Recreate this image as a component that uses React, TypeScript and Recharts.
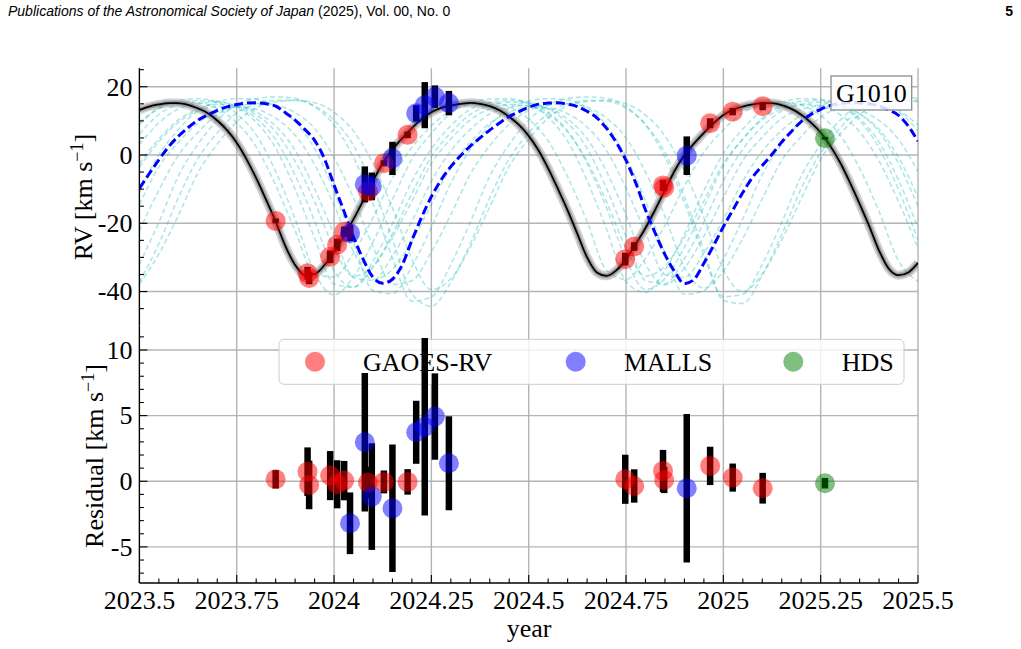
import React from "react";
import { ComposedChart, Line, Scatter, ErrorBar, XAxis, YAxis, CartesianGrid } from "recharts";

const SERIF = "'Liberation Serif', 'Times New Roman', serif";
const SANS = "'Liberation Sans', Arial, sans-serif";

// axes
const X_DOMAIN: [number, number] = [2023.5, 2025.5];
const RV_DOMAIN: [number, number] = [-50, 25.4];
const RES_DOMAIN: [number, number] = [-7.75, 11.85];

const xMajor = [2023.5, 2023.75, 2024, 2024.25, 2024.5, 2024.75, 2025, 2025.25, 2025.5];
const xTicks = [
  2023.5, 2023.55, 2023.6, 2023.65, 2023.7, 2023.75, 2023.8, 2023.85, 2023.9, 2023.95,
  2024, 2024.05, 2024.1, 2024.15, 2024.2, 2024.25, 2024.3, 2024.35, 2024.4, 2024.45,
  2024.5, 2024.55, 2024.6, 2024.65, 2024.7, 2024.75, 2024.8, 2024.85, 2024.9, 2024.95,
  2025, 2025.05, 2025.1, 2025.15, 2025.2, 2025.25, 2025.3, 2025.35, 2025.4, 2025.45, 2025.5,
];
const rvMajor = [-40, -20, 0, 20];
const rvTicks = [-45, -40, -35, -30, -25, -20, -15, -10, -5, 0, 5, 10, 15, 20, 25];
const resMajor = [-5, 0, 5, 10];
const resTicks = [-7, -6, -5, -4, -3, -2, -1, 0, 1, 2, 3, 4, 5, 6, 7, 8, 9, 10, 11];

// best-fit orbit and the comparison (blue dashed) curve, every 0.025 yr
const fitYears = [
  2023.5, 2023.525, 2023.55, 2023.575, 2023.6, 2023.625, 2023.65, 2023.675, 2023.7, 2023.725,
  2023.75, 2023.775, 2023.8, 2023.825, 2023.85, 2023.875, 2023.9, 2023.925, 2023.95, 2023.975,
  2024, 2024.025, 2024.05, 2024.075, 2024.1, 2024.125, 2024.15, 2024.175, 2024.2, 2024.225,
  2024.25, 2024.275, 2024.3, 2024.325, 2024.35, 2024.375, 2024.4, 2024.425, 2024.45, 2024.475,
  2024.5, 2024.525, 2024.55, 2024.575, 2024.6, 2024.625, 2024.65, 2024.675, 2024.7, 2024.725,
  2024.75, 2024.775, 2024.8, 2024.825, 2024.85, 2024.875, 2024.9, 2024.925, 2024.95, 2024.975,
  2025, 2025.025, 2025.05, 2025.075, 2025.1, 2025.125, 2025.15, 2025.175, 2025.2, 2025.225,
  2025.25, 2025.275, 2025.3, 2025.325, 2025.35, 2025.375, 2025.4, 2025.425, 2025.45, 2025.475,
  2025.5,
];
const bestFitRV = [
  13.2, 14.2, 14.8, 15.2, 15.2, 14.7, 13.7, 12.3, 10.1, 7.3,
  3.6, -1.2, -6.8, -13.0, -19.5, -26.7, -32.2, -35.2, -34.9, -32.3,
  -28.4, -23.9, -18.8, -13.3, -7.6, -2.4, 1.6, 4.9, 7.9, 10.5,
  12.5, 13.8, 14.5, 15.0, 15.3, 15.0, 14.3, 13.1, 11.2, 8.8,
  5.6, 1.4, -3.9, -9.9, -16.2, -23.1, -30.0, -34.4, -35.4, -33.8,
  -30.5, -26.1, -21.4, -16.0, -10.3, -4.6, 0.0, 3.4, 6.5, 9.3,
  11.7, 13.3, 14.2, 14.8, 15.2, 15.2, 14.6, 13.5, 11.8, 9.5,
  6.6, 2.6, -2.2, -8.0, -14.3, -20.9, -28.0, -33.3, -35.2, -34.4,
  -31.6,
];
const altFitRV = [
  -9.8, -5.5, -1.4, 2.4, 5.5, 8.0, 10.2, 11.7, 13.1, 14.1,
  14.8, 15.2, 15.3, 15.0, 14.3, 12.4, 10.2, 7.5, 4.3, -1.0,
  -8.8, -16.3, -24.0, -30.6, -35.8, -37.6, -36.4, -32.2, -25.0, -18.2,
  -12.2, -7.3, -3.4, -0.2, 2.6, 5.0, 7.3, 9.4, 11.3, 12.7,
  14.0, 14.9, 15.2, 15.3, 14.9, 14.2, 12.8, 10.9, 7.8, 3.7,
  -1.6, -8.2, -16.1, -22.9, -29.2, -34.2, -37.7, -36.4, -31.7, -26.5,
  -21.0, -16.0, -11.0, -6.5, -3.1, 0.2, 3.8, 6.9, 9.8, 11.9,
  13.4, 14.5, 15.1, 15.3, 15.3, 15.0, 14.3, 13.2, 11.6, 8.5,
  4.0,
];

// posterior sample curves (cyan), every 0.05 yr
const sampleYears = xTicks;
const sampleA = [9.6, 13.6, 15.2, 15.3, 13.6, 9.5, 2.4, -8.9, -22.2, -34.9, -35.7, -28.6, -18.4, -6.7, 2.2, 8.5, 13.0, 14.9, 15.4, 14.1, 10.5, 4.1, -6.4, -19.5, -33.8, -36.4, -30.3, -20.6, -9.1, 0.8, 7.4, 12.4, 14.6, 15.5, 14.6, 11.5, 5.8, -3.9, -16.6, -31.0, -37.0];
const sampleB = [6.1, 11.9, 14.8, 15.9, 15.8, 13.9, 9.6, 2.0, -10.0, -24.3, -37.8, -38.7, -31.0, -20.1, -7.7, 1.8, 8.6, 13.4, 15.3, 16.0, 15.3, 12.5, 7.0, -2.5, -15.5, -30.5, -39.4, -36.2, -27.0, -15.2, -3.3, 4.7, 10.8, 14.4, 15.7, 16.0, 14.5, 10.7, 3.8, -7.4, -21.3];
const sampleC = [-3.6, 3.9, 9.6, 13.0, 14.2, 14.3, 12.6, 8.5, 1.4, -9.9, -23.2, -35.9, -36.7, -29.6, -19.4, -7.7, 1.2, 7.5, 12.0, 13.9, 14.5, 13.6, 10.5, 4.8, -4.9, -17.6, -32.0, -38.0, -33.1, -23.8, -12.5, -1.6, 5.2, 10.7, 13.3, 14.4, 14.1, 12.0, 7.5, -0.7, -12.4];
const sampleD = [-10.9, 0.1, 7.4, 13.0, 15.5, 16.5, 16.3, 14.3, 9.8, 1.9, -10.6, -25.6, -39.7, -40.6, -32.6, -21.2, -8.2, 1.7, 8.7, 13.8, 15.8, 16.5, 16.1, 13.7, 8.7, -0.5, -13.5, -28.8, -40.8, -39.7, -30.5, -18.7, -5.8, 3.2, 9.9, 14.3, 16.0, 16.5, 15.8, 12.8, 7.1];
const sampleE = [-22.2, -10.3, -0.1, 6.6, 11.8, 14.1, 15.0, 14.6, 12.4, 7.8, -0.7, -12.6, -26.8, -37.9, -36.8, -28.4, -17.5, -5.6, 2.7, 9.0, 13.0, 14.6, 15.0, 14.0, 10.8, 5.0, -5.0, -18.0, -32.8, -39.0, -34.0, -24.4, -12.8, -1.6, 5.4, 11.1, 13.8, 14.9, 14.8, 13.0, 8.8];
const sampleF = [-32.0, -19.7, -6.2, 3.1, 10.2, 14.7, 16.5, 17.0, 16.6, 14.1, 8.8, -0.7, -14.2, -30.2, -42.8, -41.6, -32.0, -19.7, -6.2, 3.1, 10.2, 14.7, 16.5, 17.0, 16.6, 14.1, 8.8, -0.7, -14.0, -29.5, -41.5, -40.8, -32.0, -19.7, -6.2, 3.1, 10.2, 14.7, 16.5, 17.0, 16.6];
const sampleG = [-2.5, 4.7, 10.3, 13.5, 14.8, 14.4, 11.8, 6.8, -1.8, -13.7, -27.3, -35.5, -32.5, -24.1, -13.5, -2.5, 4.7, 10.3, 13.5, 14.8, 14.4, 11.8, 6.8, -1.8, -13.7, -27.3, -35.5, -32.5, -24.1, -13.5, -2.5, 4.7, 10.3, 13.5, 14.8, 14.4, 11.8, 6.8, -1.8, -13.7, -27.3];
const sampleH = [-37.8, -29.0, -17.7, -5.3, 3.2, 9.7, 13.9, 15.6, 16.0, 15.3, 12.5, 7.0, -2.5, -15.5, -30.5, -39.4, -36.2, -27.0, -15.2, -3.3, 4.7, 10.8, 14.4, 15.7, 16.0, 15.0, 11.7, 5.6, -4.7, -18.3, -33.6, -40.0, -34.8, -24.9, -12.8, -1.2, 6.1, 11.9, 14.8, 15.9, 16.0];
const sampleI = [8.9, 13.8, 15.8, 16.5, 15.5, 12.1, 5.9, -4.8, -18.7, -34.4, -41.0, -35.7, -25.5, -13.1, -1.2, 6.3, 12.3, 15.2, 16.4, 16.5, 15.0, 11.0, 4.0, -7.5, -21.8, -37.0, -40.3, -33.7, -23.1, -10.4, 0.4, 7.6, 13.1, 15.5, 16.5, 16.3, 14.4, 10.0, 2.1, -10.2, -24.8];
const sampleJ = [-14.5, -3.5, 3.7, 9.3, 12.5, 14.0, 13.4, 10.8, 5.8, -2.8, -14.7, -28.3, -36.5, -33.5, -25.1, -14.5, -3.5, 3.7, 9.3, 12.5, 14.0, 13.8, 12.1, 8.2, 1.3, -9.7, -22.7, -35.0, -35.8, -28.8, -18.9, -7.6, 1.1, 7.2, 11.6, 13.4, 14.0, 13.1, 10.1, 4.6, -4.9];
const sampleK = [-37.3, -26.0, -12.5, -1.1, 6.5, 12.3, 15.0, 16.0, 16.0, 14.4, 10.2, 2.8, -9.4, -24.6, -40.7, -44.3, -37.3, -26.0, -12.5, -1.1, 6.5, 12.3, 15.0, 16.0, 15.8, 13.7, 9.0, 0.8, -12.3, -27.9, -42.6, -43.5, -35.2, -23.3, -9.8, 0.6, 7.9, 13.1, 15.3, 16.0, 15.6];
const sampleL = [3.1, 9.4, 13.5, 15.1, 15.5, 14.3, 10.8, 4.5, -5.9, -19.3, -34.0, -38.7, -33.0, -23.1, -11.3, -0.5, 6.5, 11.9, 14.5, 15.5, 15.3, 13.5, 9.3, 1.9, -9.8, -23.7, -36.8, -37.7, -30.3, -19.7, -7.6, 1.7, 8.3, 12.9, 14.8, 15.5, 14.8, 12.1, 6.8, -2.5, -15.1];
const samples = [sampleA, sampleB, sampleC, sampleD, sampleE, sampleF, sampleG, sampleH, sampleI, sampleJ, sampleK, sampleL];

// observations
const gaoesYears = [2023.85, 2023.932, 2023.936, 2023.99, 2024.008, 2024.026, 2024.087, 2024.128, 2024.189, 2024.748, 2024.771, 2024.845, 2024.848, 2024.966, 2025.024, 2025.101];
const gaoesRV = [-19.3, -34.6, -36.0, -29.8, -26.3, -22.5, -10.7, -2.4, 5.9, -30.5, -26.8, -8.9, -9.6, 9.3, 12.7, 14.3];
const gaoesRes = [0.15, 0.73, -0.28, 0.43, -0.23, 0.05, -0.1, -0.05, -0.05, 0.15, -0.36, 0.79, 0.1, 1.17, 0.28, -0.53];
const gaoesErr = [0.7, 1.85, 1.85, 1.87, 1.83, 1.5, 1.2, 0.87, 0.97, 1.87, 1.27, 1.6, 1.0, 1.46, 1.07, 1.17];

const mallsYears = [2024.041, 2024.079, 2024.097, 2024.15, 2024.211, 2024.233, 2024.259, 2024.295, 2024.906];
const mallsRV = [-22.9, -8.6, -9.2, -1.0, 12.2, 14.6, 17.1, 15.2, -0.2];
const mallsRes = [-3.2, 2.97, -1.17, -2.06, 3.73, 4.16, 4.93, 1.37, -0.53];
const mallsErr = [2.35, 5.27, 4.06, 4.86, 2.4, 6.76, 3.29, 3.58, 5.65];

const hdsYears = [2025.261];
const hdsRV = [4.9];
const hdsRes = [-0.15];
const hdsErr = [0.4];

const instruments = ["GAOES-RV", "MALLS", "HDS"];
const instrumentColors = ["rgba(255,0,0,0.5)", "rgba(0,0,255,0.5)", "rgba(0,128,0,0.5)"];

const curve = (xs: number[], ys: number[]) => xs.map((x, i) => ({ x, y: ys[i] }));
const obs = (xs: number[], ys: number[], es: number[]) => xs.map((x, i) => ({ x, y: ys[i], err: es[i] }));

const fitData = curve(fitYears, bestFitRV);
const altData = curve(fitYears, altFitRV);
const sampleData = samples.map((s) => curve(sampleYears, s));

const topSets = [obs(gaoesYears, gaoesRV, gaoesErr), obs(mallsYears, mallsRV, mallsErr), obs(hdsYears, hdsRV, hdsErr)];
const resSets = [obs(gaoesYears, gaoesRes, gaoesErr), obs(mallsYears, mallsRes, mallsErr), obs(hdsYears, hdsRes, hdsErr)];

type Side = "left" | "right" | "top" | "bottom";

// inward matplotlib-style ticks, labels only on majors
const tickRenderer = (side: Side, majors: number[], labels: boolean) => (props: any) => {
  const { x, y, payload } = props;
  const v = Number(payload.value);
  const major = majors.some((m) => Math.abs(m - v) < 1e-6);
  const len = major ? 8 : 4.5;
  const dx = side === "left" ? len : side === "right" ? -len : 0;
  const dy = side === "top" ? len : side === "bottom" ? -len : 0;
  return (
    <g>
      <line x1={x} y1={y} x2={x + dx} y2={y + dy} stroke="#000" strokeWidth={1.1} />
      {labels && major && side === "left" && (
        <text x={x - 7} y={y} dy="0.34em" textAnchor="end" fontFamily={SERIF} fontSize={26} fill="#000">
          {String(v)}
        </text>
      )}
      {labels && major && side === "bottom" && (
        <text x={x} y={y + 26} textAnchor="middle" fontFamily={SERIF} fontSize={26} fill="#000">
          {String(v)}
        </text>
      )}
    </g>
  );
};

const dot = (color: string) => (p: any) => <circle cx={p.cx} cy={p.cy} r={10} fill={color} />;

const axisLine = { stroke: "#000", strokeWidth: 1.3 };

function LegendBox() {
  const cx = [315, 575.7, 793.3];
  const tx = [363, 624, 841.7];
  return (
    <g>
      <rect x={279} y={339.3} width={625} height={45} rx={5} fill="#fff" fillOpacity={0.8} stroke="#cccccc" strokeWidth={1} />
      {instruments.map((name, i) => (
        <g key={name}>
          <circle cx={cx[i]} cy={361.7} r={10} fill={instrumentColors[i]} />
          <text x={tx[i]} y={370.5} fontFamily={SERIF} fontSize={26} fill="#000">
            {name}
          </text>
        </g>
      ))}
    </g>
  );
}

export default function App() {
  const W = 1021;
  const H = 649;
  return (
    <div style={{ position: "absolute", left: 0, top: 0, width: W, height: H, background: "#fff", overflow: "hidden" }}>
      <div style={{ position: "absolute", left: 8, top: 3, fontFamily: SANS, fontSize: 14, lineHeight: "16px", color: "#000", whiteSpace: "nowrap" }}>
        <i>Publications of the Astronomical Society of Japan</i> (2025), Vol. 00, No. 0
      </div>
      <div style={{ position: "absolute", right: 8, top: 3, fontFamily: SANS, fontSize: 14, lineHeight: "16px", fontWeight: "bold" }}>5</div>

      {/* upper panel: RV */}
      <div style={{ position: "absolute", left: 0, top: 0 }}>
        <ComposedChart width={W} height={H} margin={{ top: 68.3, right: 103, bottom: 323.3, left: 0 }}>
          <CartesianGrid stroke="#b4b4b4" strokeWidth={1.4} verticalValues={xMajor} horizontalValues={rvMajor} />
          <XAxis dataKey="x" type="number" domain={X_DOMAIN} allowDataOverflow ticks={xTicks} interval={0} orientation="bottom" height={0} tickSize={0} tickMargin={0} tickLine={false} axisLine={axisLine} tick={tickRenderer("bottom", xMajor, false)} />
          <XAxis xAxisId="top" dataKey="x" type="number" domain={X_DOMAIN} allowDataOverflow ticks={xTicks} interval={0} orientation="top" height={0} tickSize={0} tickMargin={0} tickLine={false} axisLine={axisLine} tick={tickRenderer("top", xMajor, false)} />
          <YAxis type="number" domain={RV_DOMAIN} allowDataOverflow ticks={rvTicks} interval={0} width={139.4} tickSize={0} tickMargin={0} tickLine={false} axisLine={axisLine} tick={tickRenderer("left", rvMajor, true)} />
          <YAxis yAxisId="right" orientation="right" type="number" domain={RV_DOMAIN} allowDataOverflow ticks={rvTicks} interval={0} width={0} tickSize={0} tickMargin={0} tickLine={false} axisLine={axisLine} tick={tickRenderer("right", rvMajor, false)} />
          {sampleData.map((d, i) => (
            <Line key={"s" + i} data={d} dataKey="y" type="monotone" stroke="#00b3b3" strokeOpacity={0.32} strokeWidth={1.6} strokeDasharray="5 3" dot={false} activeDot={false} isAnimationActive={false} />
          ))}
          <Line data={fitData} dataKey="y" type="monotone" stroke="#8c8c8c" strokeOpacity={0.4} strokeWidth={9} dot={false} activeDot={false} isAnimationActive={false} />
          <Line data={fitData} dataKey="y" type="monotone" stroke="#6e6e6e" strokeOpacity={0.5} strokeWidth={5} dot={false} activeDot={false} isAnimationActive={false} />
          <Line data={fitData} dataKey="y" type="monotone" stroke="#000" strokeWidth={1.8} dot={false} activeDot={false} isAnimationActive={false} />
          <Line data={altData} dataKey="y" type="monotone" stroke="#0000ff" strokeWidth={3} strokeDasharray="9 4" dot={false} activeDot={false} isAnimationActive={false} />
          {topSets.map((d, i) => (
            <Scatter key={"t" + i} name={instruments[i]} data={d} dataKey="y" shape={dot(instrumentColors[i])} isAnimationActive={false}>
              <ErrorBar dataKey="err" direction="y" width={0} stroke="#000" strokeWidth={6.5} isAnimationActive={false} />
            </Scatter>
          ))}
        </ComposedChart>
      </div>

      {/* lower panel: residuals */}
      <div style={{ position: "absolute", left: 0, top: 0 }}>
        <ComposedChart width={W} height={H} margin={{ top: 325.7, right: 103, bottom: 0, left: 0 }}>
          <CartesianGrid stroke="#b4b4b4" strokeWidth={1.4} verticalValues={xMajor} horizontalValues={resMajor} />
          <XAxis dataKey="x" type="number" domain={X_DOMAIN} allowDataOverflow ticks={xTicks} interval={0} orientation="bottom" height={66} tickSize={0} tickMargin={0} tickLine={false} axisLine={axisLine} tick={tickRenderer("bottom", xMajor, true)} />
          <XAxis xAxisId="top" dataKey="x" type="number" domain={X_DOMAIN} allowDataOverflow ticks={xTicks} interval={0} orientation="top" height={0} tickSize={0} tickMargin={0} tickLine={false} axisLine={axisLine} tick={tickRenderer("top", xMajor, false)} />
          <YAxis type="number" domain={RES_DOMAIN} allowDataOverflow ticks={resTicks} interval={0} width={139.4} tickSize={0} tickMargin={0} tickLine={false} axisLine={axisLine} tick={tickRenderer("left", resMajor, true)} />
          <YAxis yAxisId="right" orientation="right" type="number" domain={RES_DOMAIN} allowDataOverflow ticks={resTicks} interval={0} width={0} tickSize={0} tickMargin={0} tickLine={false} axisLine={axisLine} tick={tickRenderer("right", resMajor, false)} />
          <LegendBox />
          {resSets.map((d, i) => (
            <Scatter key={"r" + i} name={instruments[i]} data={d} dataKey="y" shape={dot(instrumentColors[i])} isAnimationActive={false}>
              <ErrorBar dataKey="err" direction="y" width={0} stroke="#000" strokeWidth={6.5} isAnimationActive={false} />
            </Scatter>
          ))}
        </ComposedChart>
      </div>

      {/* axis titles and panel tag */}
      <svg width={W} height={H} style={{ position: "absolute", left: 0, top: 0, pointerEvents: "none" }}>
        <text transform="translate(92,197) rotate(-90)" textAnchor="middle" fontFamily={SERIF} fontSize={26} fill="#000">
          RV [km s<tspan dy={-9} fontSize={18}>−1</tspan><tspan dy={9}>]</tspan>
        </text>
        <text transform="translate(103,456) rotate(-90)" textAnchor="middle" fontFamily={SERIF} fontSize={26} fill="#000">
          Residual [km s<tspan dy={-9} fontSize={18}>−1</tspan><tspan dy={9}>]</tspan>
        </text>
        <text x={529} y={637} textAnchor="middle" fontFamily={SERIF} fontSize={26} fill="#000">
          year
        </text>
        <rect x={831} y={76} width={80.7} height={34} fill="#fff" fillOpacity={0.85} stroke="#8c8c8c" strokeWidth={1.3} />
        <text x={871.3} y={102} textAnchor="middle" fontFamily={SERIF} fontSize={26} fill="#000">
          G1010
        </text>
      </svg>
    </div>
  );
}
